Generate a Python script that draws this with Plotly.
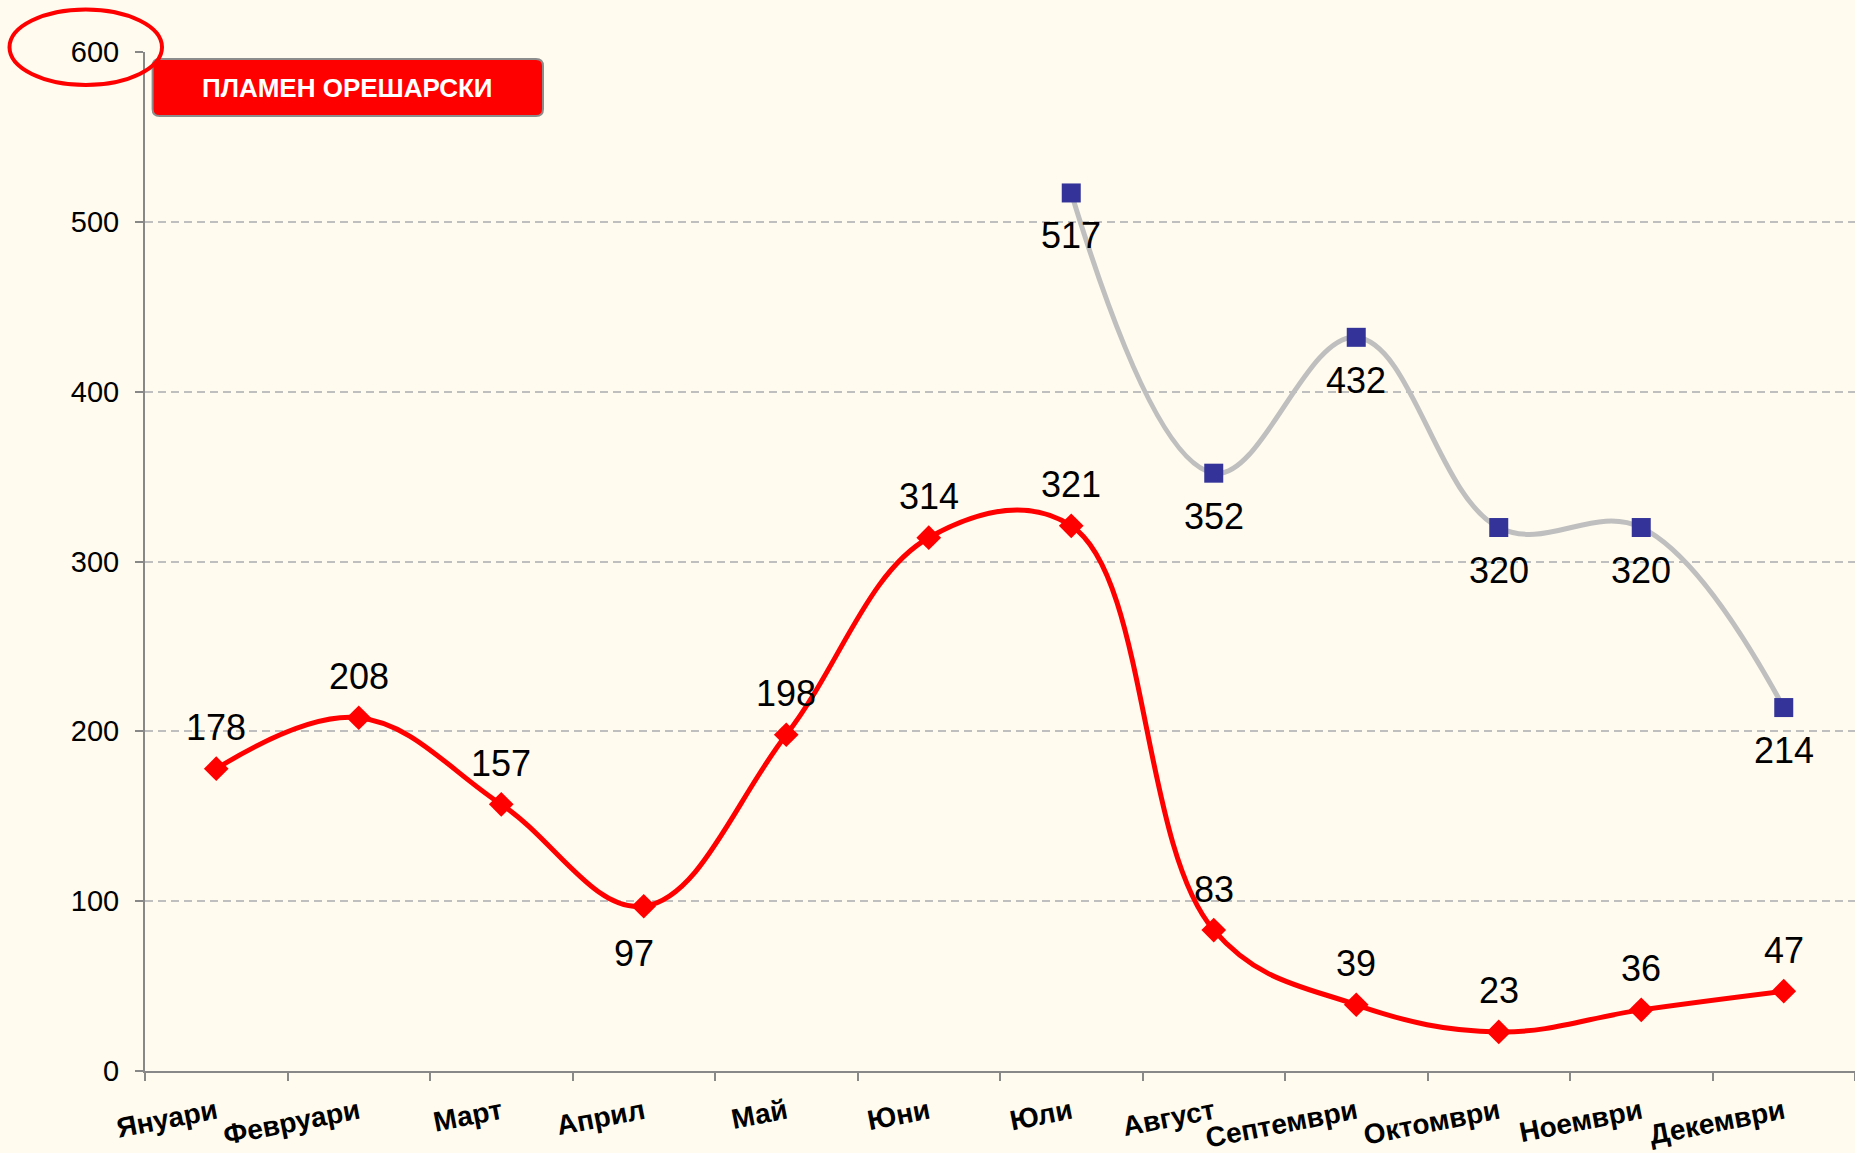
import plotly.graph_objects as go

months = ["Януари", "Февруари", "Март", "Април", "Май", "Юни", "Юли",
          "Август", "Септември", "Октомври", "Ноември", "Декември"]
red_values = [178, 208, 157, 97, 198, 314, 321, 83, 39, 23, 36, 47]
red_label_below = [False, False, False, True, False, False, False, False, False, False, False, False]
blue_months = months[6:]
blue_values = [517, 352, 432, 320, 320, 214]
y_ticks = [0, 100, 200, 300, 400, 500, 600]
title_text = "ПЛАМЕН ОРЕШАРСКИ"

BG = "#FFFBEF"
LABEL_FONT = dict(family="Arial, Liberation Sans", size=36, color="black")
fig = go.Figure()

fig.add_trace(go.Scatter(
    x=blue_months, y=blue_values, mode="lines+markers",
    line=dict(color="#BFBFBF", width=5, shape="spline", smoothing=1.1),
    marker=dict(symbol="square", size=19, color="#333399"),
    cliponaxis=False, hoverinfo="x+y", showlegend=False))

fig.add_trace(go.Scatter(
    x=months, y=red_values, mode="lines+markers",
    line=dict(color="#FF0000", width=5, shape="spline", smoothing=1.1),
    marker=dict(symbol="diamond", size=19, color="#FF0000"),
    cliponaxis=False, hoverinfo="x+y", showlegend=False))

# data labels
for m, v, below in zip(months, red_values, red_label_below):
    fig.add_annotation(x=m, y=v, text=str(v), showarrow=False,
                       xanchor="center", yanchor="middle",
                       yshift=-47 if below else 41, xshift=-10 if below else 0,
                       font=LABEL_FONT)
for m, v in zip(blue_months, blue_values):
    fig.add_annotation(x=m, y=v, text=str(v), showarrow=False,
                       xanchor="center", yanchor="middle", yshift=-43,
                       font=LABEL_FONT)

# Title box (rounded rectangle)
pw, ph = 1710.0, 1018.6
x0, x1 = (152.6 - 145) / pw, (543 - 145) / pw
y1, y0 = (1070.6 - 59) / ph, (1070.6 - 116) / ph
rx, ry = 7 / pw, 7 / ph
path = (f"M {x0+rx},{y1} L {x1-rx},{y1} Q {x1},{y1} {x1},{y1-ry} "
        f"L {x1},{y0+ry} Q {x1},{y0} {x1-rx},{y0} L {x0+rx},{y0} "
        f"Q {x0},{y0} {x0},{y0+ry} L {x0},{y1-ry} Q {x0},{y1} {x0+rx},{y1} Z")
fig.add_shape(type="path", path=path, xref="paper", yref="paper",
              fillcolor="#FF0000", line=dict(color="#8C8C8C", width=2), layer="above")
fig.add_annotation(x=(x0 + x1) / 2, y=(y0 + y1) / 2, xref="paper", yref="paper",
                   xanchor="center", yanchor="middle",
                   text=f"<b>{title_text}</b>", showarrow=False,
                   font=dict(family="Arial, Liberation Sans", size=26, color="white"))

# Red ellipse around the 600 label
fig.add_shape(type="circle", xref="paper", yref="paper",
              x0=(9.5 - 145) / pw, x1=(162 - 145) / pw,
              y0=(1070.6 - 85) / ph, y1=(1070.6 - 9.5) / ph,
              line=dict(color="#FF0000", width=4), layer="above")

fig.update_layout(
    width=1855, height=1153,
    margin=dict(l=145, r=0, t=52, b=82),
    paper_bgcolor=BG, plot_bgcolor=BG,
    xaxis=dict(type="category", categoryorder="array", categoryarray=months,
               range=[-0.5, 11.5], showgrid=False, showline=True, linecolor="#888888",
               linewidth=2, ticks="outside", tickson="boundaries", ticklen=8,
               tickcolor="#888888", tickwidth=1.5, tickangle=-11,
               ticklabelstandoff=12,
               tickfont=dict(family="Arial, Liberation Sans", size=28,
                             color="black", weight="bold")),
    yaxis=dict(range=[0, 600], tickvals=y_ticks, showgrid=True, gridcolor="#BFBFBF",
               griddash="8px,5px", gridwidth=1.5, zeroline=False, showline=True,
               linecolor="#888888", linewidth=2, ticks="outside", ticklen=8,
               tickcolor="#888888", tickwidth=1.5, ticklabelstandoff=10,
               tickfont=dict(family="Arial, Liberation Sans", size=29, color="black")),
)

fig.write_html("out.html", config={"displayModeBar": False},
               post_script="document.body.style.margin='0';document.body.style.background='#FFFBEF';")
